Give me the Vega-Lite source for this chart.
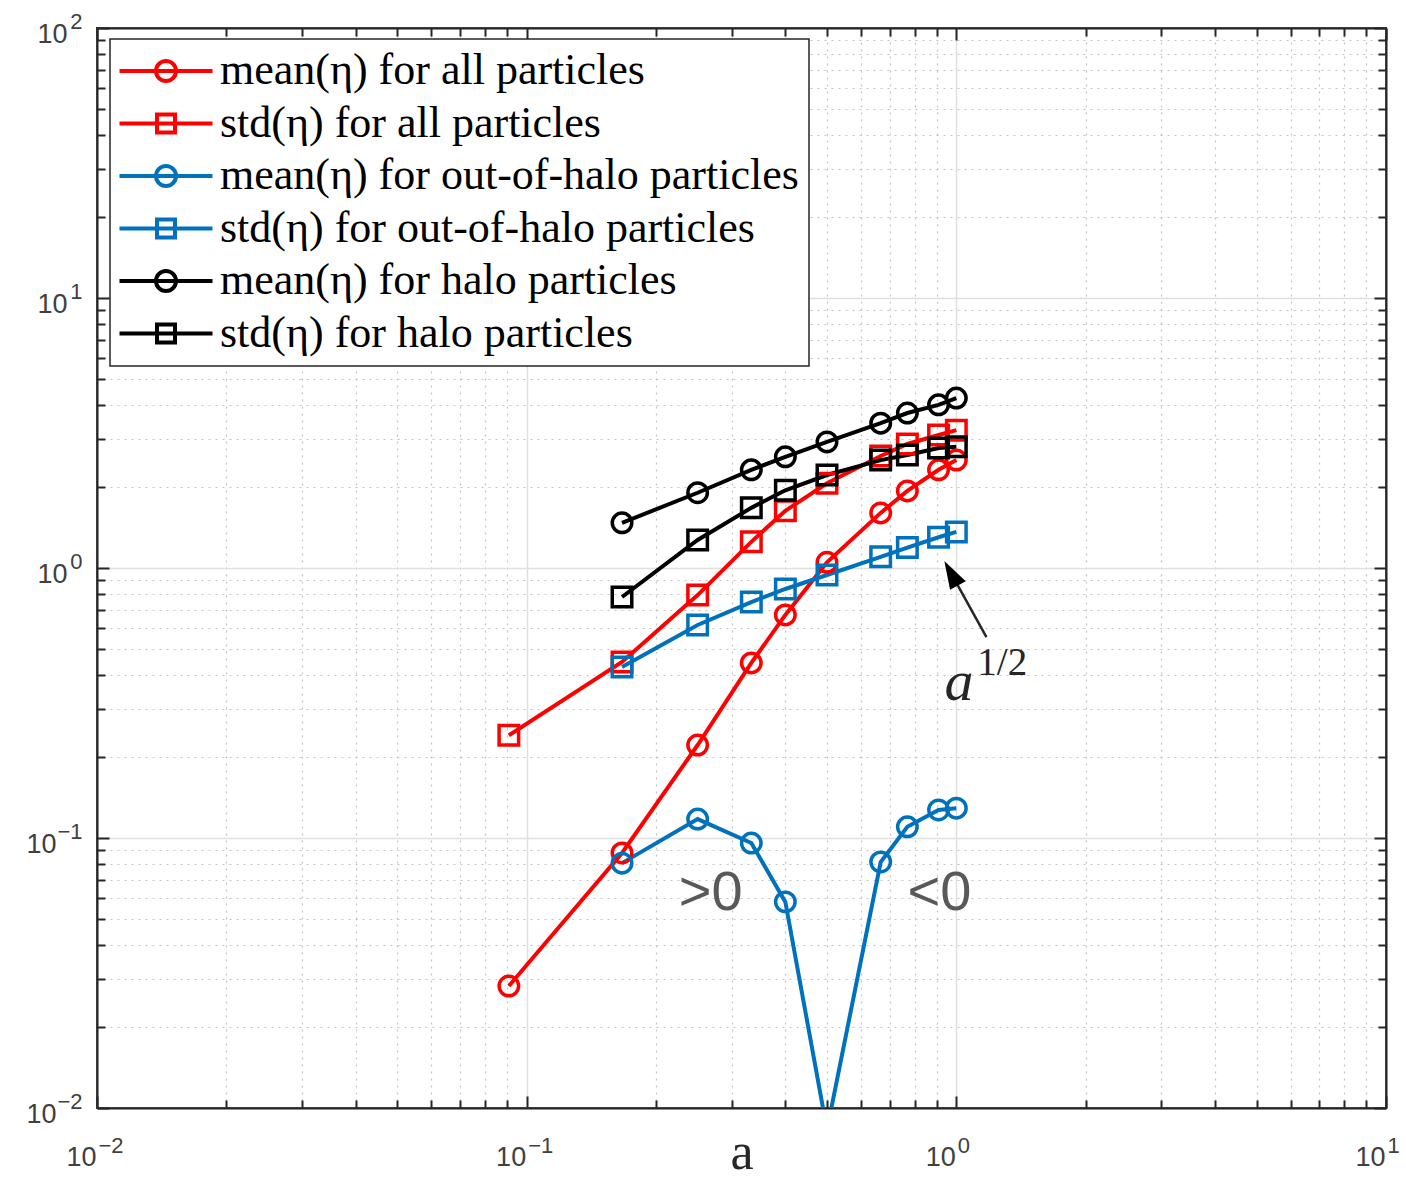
{
  "$schema": "https://vega.github.io/schema/vega-lite/v6.json",
  "autosize": {"type": "none"},
  "width": 1289,
  "height": 1080,
  "padding": {"left": 97, "top": 28, "right": 20, "bottom": 72},
  "background": "white",
  "config": {
    "view": {"stroke": "#262626", "strokeWidth": 2},
    "legend": {
      "orient": "none",
      "legendX": 13,
      "legendY": 11,
      "title": null,
      "labelFont": "Liberation Serif",
      "labelFontSize": 44,
      "labelColor": "#000000",
      "labelLimit": 0,
      "labelOffset": 32,
      "symbolSize": 900,
      "symbolOffset": 24,
      "symbolStrokeWidth": 4,
      "symbolOpacity": 1,
      "symbolFillColor": "transparent",
      "strokeColor": "#262626",
      "strokeWidth": 1.5,
      "fillColor": "white",
      "padding": 10,
      "rowPadding": 8.5
    }
  },
  "datasets": {
    "series": [
      {"a": 0.0909, "v": 0.0283, "s": "mean(η) for all particles", "stat": "mean"},
      {"a": 0.1667, "v": 0.088, "s": "mean(η) for all particles", "stat": "mean"},
      {"a": 0.25, "v": 0.221, "s": "mean(η) for all particles", "stat": "mean"},
      {"a": 0.3333, "v": 0.445, "s": "mean(η) for all particles", "stat": "mean"},
      {"a": 0.4, "v": 0.67, "s": "mean(η) for all particles", "stat": "mean"},
      {"a": 0.5, "v": 1.05, "s": "mean(η) for all particles", "stat": "mean"},
      {"a": 0.6667, "v": 1.6, "s": "mean(η) for all particles", "stat": "mean"},
      {"a": 0.7692, "v": 1.93, "s": "mean(η) for all particles", "stat": "mean"},
      {"a": 0.9091, "v": 2.31, "s": "mean(η) for all particles", "stat": "mean"},
      {"a": 1.0, "v": 2.51, "s": "mean(η) for all particles", "stat": "mean"},
      {"a": 0.0909, "v": 0.24, "s": "std(η) for all particles", "stat": "std"},
      {"a": 0.1667, "v": 0.449, "s": "std(η) for all particles", "stat": "std"},
      {"a": 0.25, "v": 0.794, "s": "std(η) for all particles", "stat": "std"},
      {"a": 0.3333, "v": 1.25, "s": "std(η) for all particles", "stat": "std"},
      {"a": 0.4, "v": 1.63, "s": "std(η) for all particles", "stat": "std"},
      {"a": 0.5, "v": 2.06, "s": "std(η) for all particles", "stat": "std"},
      {"a": 0.6667, "v": 2.6, "s": "std(η) for all particles", "stat": "std"},
      {"a": 0.7692, "v": 2.88, "s": "std(η) for all particles", "stat": "std"},
      {"a": 0.9091, "v": 3.11, "s": "std(η) for all particles", "stat": "std"},
      {"a": 1.0, "v": 3.24, "s": "std(η) for all particles", "stat": "std"},
      {"a": 0.1667, "v": 0.0807, "s": "mean(η) for out-of-halo particles", "stat": "mean"},
      {"a": 0.25, "v": 0.1175, "s": "mean(η) for out-of-halo particles", "stat": "mean"},
      {"a": 0.3333, "v": 0.0958, "s": "mean(η) for out-of-halo particles", "stat": "mean"},
      {"a": 0.4, "v": 0.058, "s": "mean(η) for out-of-halo particles", "stat": "mean"},
      {"a": 0.5, "v": 0.0083, "s": "mean(η) for out-of-halo particles", "stat": "mean"},
      {"a": 0.6667, "v": 0.0815, "s": "mean(η) for out-of-halo particles", "stat": "mean"},
      {"a": 0.7692, "v": 0.11, "s": "mean(η) for out-of-halo particles", "stat": "mean"},
      {"a": 0.9091, "v": 0.127, "s": "mean(η) for out-of-halo particles", "stat": "mean"},
      {"a": 1.0, "v": 0.129, "s": "mean(η) for out-of-halo particles", "stat": "mean"},
      {"a": 0.1667, "v": 0.43, "s": "std(η) for out-of-halo particles", "stat": "std"},
      {"a": 0.25, "v": 0.615, "s": "std(η) for out-of-halo particles", "stat": "std"},
      {"a": 0.3333, "v": 0.748, "s": "std(η) for out-of-halo particles", "stat": "std"},
      {"a": 0.4, "v": 0.836, "s": "std(η) for out-of-halo particles", "stat": "std"},
      {"a": 0.5, "v": 0.942, "s": "std(η) for out-of-halo particles", "stat": "std"},
      {"a": 0.6667, "v": 1.1, "s": "std(η) for out-of-halo particles", "stat": "std"},
      {"a": 0.7692, "v": 1.19, "s": "std(η) for out-of-halo particles", "stat": "std"},
      {"a": 0.9091, "v": 1.3, "s": "std(η) for out-of-halo particles", "stat": "std"},
      {"a": 1.0, "v": 1.36, "s": "std(η) for out-of-halo particles", "stat": "std"},
      {"a": 0.1667, "v": 1.47, "s": "mean(η) for halo particles", "stat": "mean"},
      {"a": 0.25, "v": 1.9, "s": "mean(η) for halo particles", "stat": "mean"},
      {"a": 0.3333, "v": 2.31, "s": "mean(η) for halo particles", "stat": "mean"},
      {"a": 0.4, "v": 2.58, "s": "mean(η) for halo particles", "stat": "mean"},
      {"a": 0.5, "v": 2.93, "s": "mean(η) for halo particles", "stat": "mean"},
      {"a": 0.6667, "v": 3.44, "s": "mean(η) for halo particles", "stat": "mean"},
      {"a": 0.7692, "v": 3.75, "s": "mean(η) for halo particles", "stat": "mean"},
      {"a": 0.9091, "v": 4.02, "s": "mean(η) for halo particles", "stat": "mean"},
      {"a": 1.0, "v": 4.26, "s": "mean(η) for halo particles", "stat": "mean"},
      {"a": 0.1667, "v": 0.781, "s": "std(η) for halo particles", "stat": "std"},
      {"a": 0.25, "v": 1.27, "s": "std(η) for halo particles", "stat": "std"},
      {"a": 0.3333, "v": 1.67, "s": "std(η) for halo particles", "stat": "std"},
      {"a": 0.4, "v": 1.94, "s": "std(η) for halo particles", "stat": "std"},
      {"a": 0.5, "v": 2.21, "s": "std(η) for halo particles", "stat": "std"},
      {"a": 0.6667, "v": 2.51, "s": "std(η) for halo particles", "stat": "std"},
      {"a": 0.7692, "v": 2.62, "s": "std(η) for halo particles", "stat": "std"},
      {"a": 0.9091, "v": 2.78, "s": "std(η) for halo particles", "stat": "std"},
      {"a": 1.0, "v": 2.81, "s": "std(η) for halo particles", "stat": "std"}
    ]
  },
  "resolve": {
    "scale": {"color": "independent", "shape": "independent"},
    "axis": {"x": "independent", "y": "independent"}
  },
  "layer": [
    {
      "data": {"name": "series"},
      "mark": {"type": "line", "strokeWidth": 4, "clip": true},
      "encoding": {
        "x": {
          "field": "a", "type": "quantitative",
          "scale": {"type": "log", "domain": [0.01, 10], "nice": false},
          "axis": {
            "orient": "bottom",
            "values": [0.01, 0.1, 1, 10],
            "labelExpr": "'10'",
            "labelAlign": "right", "labelBaseline": "alphabetic", "labelOffset": -1,
            "grid": true, "gridColor": "#e0e0e0", "gridWidth": 1.5,
            "tickSize": -12, "tickColor": "#262626", "tickWidth": 2,
            "domainColor": "#262626", "domainWidth": 2,
            "labelFont": "Liberation Sans", "labelFontSize": 27, "labelColor": "#404040",
            "labelPadding": 69, "labelFlush": false, "labelOverlap": false,
            "title": "a", "titleFont": "Liberation Serif", "titleFontSize": 52,
            "titleFontWeight": "normal", "titleColor": "#262626",
            "titleY": 60, "titleBaseline": "alphabetic"
          }
        },
        "y": {
          "field": "v", "type": "quantitative",
          "scale": {"type": "log", "domain": [0.01, 100], "nice": false},
          "axis": {
            "orient": "left",
            "values": [0.01, 0.1, 1, 10, 100],
            "labelExpr": "'10'",
            "labelBaseline": "middle", "labelOffset": 6,
            "grid": true, "gridColor": "#e0e0e0", "gridWidth": 1.5,
            "tickSize": -12, "tickColor": "#262626", "tickWidth": 2,
            "domainColor": "#262626", "domainWidth": 2,
            "labelFont": "Liberation Sans", "labelFontSize": 27, "labelColor": "#404040",
            "labelPadding": {"condition": {"test": "datum.value < 0.5", "value": 53}, "value": 42},
            "labelFlush": false, "labelOverlap": false,
            "title": null
          }
        },
        "color": {
          "field": "s", "type": "nominal",
          "scale": {
            "domain": ["mean(η) for all particles", "std(η) for all particles", "mean(η) for out-of-halo particles", "std(η) for out-of-halo particles", "mean(η) for halo particles", "std(η) for halo particles"],
            "range": ["#FF0000", "#FF0000", "#0072BD", "#0072BD", "#000000", "#000000"]
          },
          "legend": null
        }
      }
    },
    {
      "data": {"name": "series"},
      "mark": {"type": "point", "filled": false, "size": 380, "strokeWidth": 3.5, "opacity": 1, "clip": true},
      "encoding": {
        "x": {
          "field": "a", "type": "quantitative",
          "scale": {"type": "log", "domain": [0.01, 10], "nice": false},
          "axis": {
            "orient": "top",
            "values": [0.02, 0.03, 0.04, 0.05, 0.06, 0.07, 0.08, 0.09, 0.2, 0.3, 0.4, 0.5, 0.6, 0.7, 0.8, 0.9, 2, 3, 4, 5, 6, 7, 8, 9],
            "labels": false,
            "grid": true, "gridColor": "#c4c4c4", "gridWidth": 1.2, "gridDash": [2, 5],
            "tickSize": -8, "tickColor": "#262626", "tickWidth": 2,
            "domainColor": "#262626", "domainWidth": 2,
            "title": null
          }
        },
        "y": {
          "field": "v", "type": "quantitative",
          "scale": {"type": "log", "domain": [0.01, 100], "nice": false},
          "axis": {
            "orient": "right",
            "values": [0.02, 0.03, 0.04, 0.05, 0.06, 0.07, 0.08, 0.09, 0.2, 0.3, 0.4, 0.5, 0.6, 0.7, 0.8, 0.9, 2, 3, 4, 5, 6, 7, 8, 9, 20, 30, 40, 50, 60, 70, 80, 90],
            "labels": false,
            "grid": true, "gridColor": "#c4c4c4", "gridWidth": 1.2, "gridDash": [2, 5],
            "tickSize": -8, "tickColor": "#262626", "tickWidth": 2,
            "domainColor": "#262626", "domainWidth": 2,
            "title": null
          }
        },
        "color": {
          "field": "s", "type": "nominal",
          "scale": {
            "domain": ["mean(η) for all particles", "std(η) for all particles", "mean(η) for out-of-halo particles", "std(η) for out-of-halo particles", "mean(η) for halo particles", "std(η) for halo particles"],
            "range": ["#FF0000", "#FF0000", "#0072BD", "#0072BD", "#000000", "#000000"]
          },
          "legend": null
        },
        "shape": {
          "field": "stat", "type": "nominal",
          "scale": {"domain": ["mean", "std"], "range": ["circle", "square"]},
          "legend": null
        }
      }
    },
    {
      "data": {"name": "series"},
      "mark": {"type": "point", "filled": false, "opacity": 0, "clip": true},
      "encoding": {
        "x": {
          "field": "a", "type": "quantitative",
          "axis": {
            "orient": "bottom",
            "values": [0.01, 0.1, 1, 10],
            "labelExpr": "datum.value < 0.05 ? '−2' : datum.value < 0.5 ? '−1' : datum.value < 5 ? '0' : '1'",
            "labelAlign": "left", "labelBaseline": "alphabetic", "labelOffset": 1,
            "grid": false, "domain": false,
            "tickSize": -12, "tickOpacity": 0,
            "labelFont": "Liberation Sans", "labelFontSize": 22, "labelColor": "#404040",
            "labelPadding": 56, "labelFlush": false, "labelOverlap": false,
            "title": null
          }
        },
        "y": {
          "field": "v", "type": "quantitative",
          "axis": {
            "orient": "left",
            "values": [0.01, 0.1, 1, 10, 100],
            "labelExpr": "datum.value < 0.05 ? '−2' : datum.value < 0.5 ? '−1' : datum.value < 5 ? '0' : datum.value < 50 ? '1' : '2'",
            "labelBaseline": "middle", "labelOffset": -7,
            "grid": false, "domain": false,
            "tickSize": -12, "tickOpacity": 0,
            "labelFont": "Liberation Sans", "labelFontSize": 22, "labelColor": "#404040",
            "labelPadding": 27, "labelFlush": false, "labelOverlap": false,
            "title": null
          }
        },
        "color": {
          "field": "s", "type": "nominal",
          "scale": {
            "domain": ["mean(η) for all particles", "std(η) for all particles", "mean(η) for out-of-halo particles", "std(η) for out-of-halo particles", "mean(η) for halo particles", "std(η) for halo particles"],
            "range": ["#FF0000", "#FF0000", "#0072BD", "#0072BD", "#000000", "#000000"]
          },
          "legend": {}
        },
        "shape": {
          "field": "s", "type": "nominal",
          "scale": {
            "domain": ["mean(η) for all particles", "std(η) for all particles", "mean(η) for out-of-halo particles", "std(η) for out-of-halo particles", "mean(η) for halo particles", "std(η) for halo particles"],
            "range": [
              "M-3.1,0H3.1M-0.667,0A0.667,0.667,0,1,1,0.667,0A0.667,0.667,0,1,1,-0.667,0Z",
              "M-3.1,0H3.1M-0.6,-0.6H0.6V0.6H-0.6Z",
              "M-3.1,0H3.1M-0.667,0A0.667,0.667,0,1,1,0.667,0A0.667,0.667,0,1,1,-0.667,0Z",
              "M-3.1,0H3.1M-0.6,-0.6H0.6V0.6H-0.6Z",
              "M-3.1,0H3.1M-0.667,0A0.667,0.667,0,1,1,0.667,0A0.667,0.667,0,1,1,-0.667,0Z",
              "M-3.1,0H3.1M-0.6,-0.6H0.6V0.6H-0.6Z"
            ]
          },
          "legend": {}
        }
      }
    },
    {
      "data": {"values": [{"a1": 1.175, "v1": 0.555, "a2": 0.9725, "v2": 0.956}]},
      "mark": {"type": "rule", "color": "#262626", "strokeWidth": 2.5},
      "encoding": {
        "x": {
          "field": "a1", "type": "quantitative",
          "axis": {
            "orient": "bottom",
            "values": [0.02, 0.03, 0.04, 0.05, 0.06, 0.07, 0.08, 0.09, 0.2, 0.3, 0.4, 0.5, 0.6, 0.7, 0.8, 0.9, 2, 3, 4, 5, 6, 7, 8, 9],
            "labels": false, "grid": false, "domain": false,
            "tickSize": -8, "tickColor": "#262626", "tickWidth": 2,
            "title": null
          }
        },
        "y": {
          "field": "v1", "type": "quantitative",
          "axis": {
            "orient": "left",
            "values": [0.02, 0.03, 0.04, 0.05, 0.06, 0.07, 0.08, 0.09, 0.2, 0.3, 0.4, 0.5, 0.6, 0.7, 0.8, 0.9, 2, 3, 4, 5, 6, 7, 8, 9, 20, 30, 40, 50, 60, 70, 80, 90],
            "labels": false, "grid": false, "domain": false,
            "tickSize": -8, "tickColor": "#262626", "tickWidth": 2,
            "title": null
          }
        },
        "x2": {"field": "a2"},
        "y2": {"field": "v2"}
      }
    },
    {
      "data": {"values": [{"a": 0.9725, "v": 0.956}]},
      "mark": {"type": "point", "shape": "M0,-1L-0.64,1L0.64,1Z", "size": 784, "filled": true, "color": "#000000", "opacity": 1, "angle": 331, "strokeWidth": 0},
      "encoding": {
        "x": {
          "field": "a", "type": "quantitative",
          "axis": {
            "orient": "top",
            "values": [0.01, 0.1, 1, 10],
            "labels": false, "grid": false, "domain": false,
            "tickSize": -12, "tickColor": "#262626", "tickWidth": 2,
            "title": null
          }
        },
        "y": {
          "field": "v", "type": "quantitative",
          "axis": {
            "orient": "right",
            "values": [0.01, 0.1, 1, 10, 100],
            "labels": false, "grid": false, "domain": false,
            "tickSize": -12, "tickColor": "#262626", "tickWidth": 2,
            "title": null
          }
        }
      }
    },
    {
      "data": {"values": [{"a": 0.268, "v": 0.0541, "t": ">0"}, {"a": 0.913, "v": 0.0541, "t": "<0"}]},
      "mark": {"type": "text", "font": "Liberation Sans", "fontSize": 56, "color": "#595959", "align": "center", "baseline": "alphabetic"},
      "encoding": {
        "x": {"field": "a", "type": "quantitative", "axis": null},
        "y": {"field": "v", "type": "quantitative", "axis": null},
        "text": {"field": "t"}
      }
    },
    {
      "data": {"values": [{"a": 0.938, "v": 0.3245, "t": "a"}]},
      "mark": {"type": "text", "font": "Liberation Serif", "fontStyle": "italic", "fontSize": 58, "color": "#262626", "align": "left", "baseline": "alphabetic"},
      "encoding": {
        "x": {"field": "a", "type": "quantitative", "axis": null},
        "y": {"field": "v", "type": "quantitative", "axis": null},
        "text": {"field": "t"}
      }
    },
    {
      "data": {"values": [{"a": 1.119, "v": 0.4015, "t": "1/2"}]},
      "mark": {"type": "text", "font": "Liberation Serif", "fontSize": 39, "color": "#262626", "align": "left", "baseline": "alphabetic"},
      "encoding": {
        "x": {"field": "a", "type": "quantitative", "axis": null},
        "y": {"field": "v", "type": "quantitative", "axis": null},
        "text": {"field": "t"}
      }
    }
  ]
}
